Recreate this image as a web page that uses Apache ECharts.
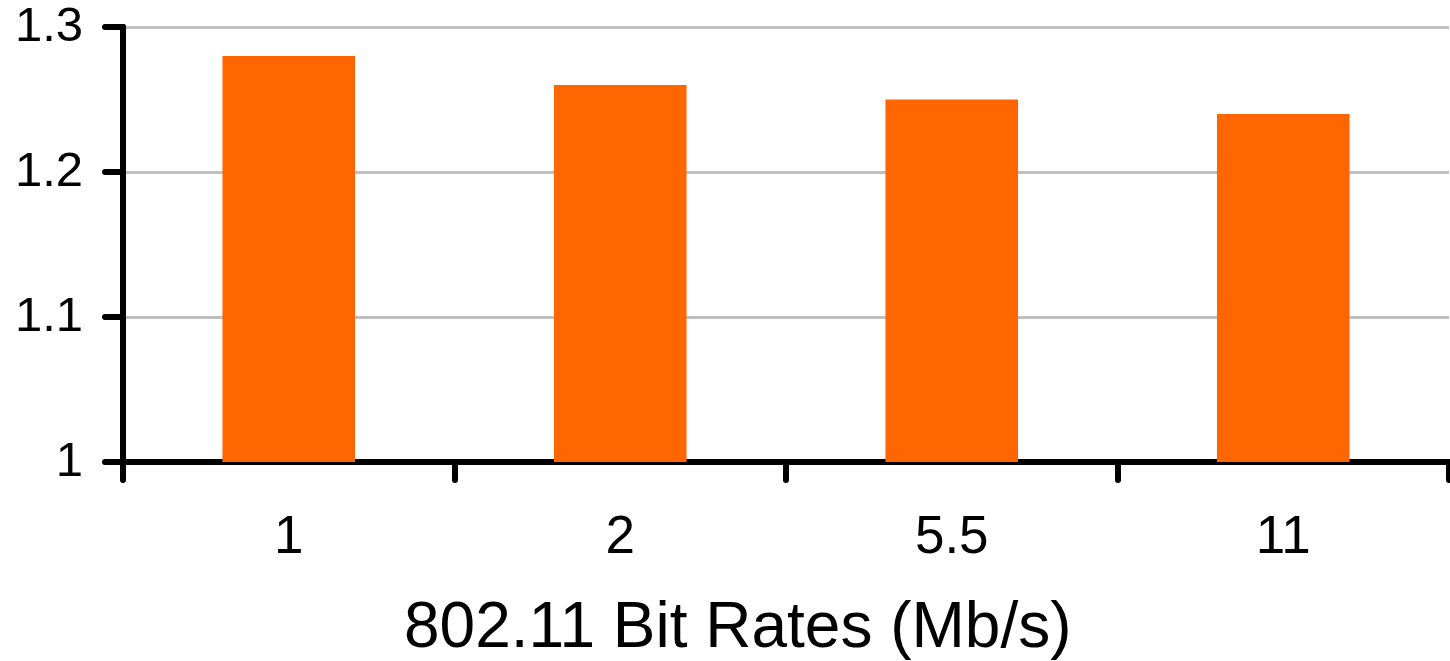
<!DOCTYPE html>
<html>
<head>
<meta charset="utf-8">
<style>
  html, body { margin: 0; padding: 0; background: #ffffff; }
  #chart { width: 1450px; height: 661px; }
</style>
<script src="https://cdn.jsdelivr.net/npm/echarts@6/dist/echarts.min.js"></script>
</head>
<body>
<div id="chart"></div>
<script>
const categories = ['1', '2', '5.5', '11'];
const values = [1.28, 1.26, 1.25, 1.24];
const yTicks = { min: 1, max: 1.3, interval: 0.1 };
const xTitle = '802.11 Bit Rates (Mb/s)';

const FONT = '"Liberation Sans", Arial, sans-serif';
const chart = echarts.init(document.getElementById('chart'), null, { renderer: 'canvas' });

chart.setOption({
  animation: false,
  backgroundColor: '#ffffff',
  grid: { left: 123, right: 1, top: 27, bottom: 199, containLabel: false },
  xAxis: {
    type: 'category',
    data: categories,
    boundaryGap: true,
    axisLine: { show: true, lineStyle: { color: '#000', width: 6, cap: 'round' } },
    axisTick: { show: true, length: 18, alignWithLabel: false, lineStyle: { color: '#000', width: 6, cap: 'round' } },
    axisLabel: { margin: 50, fontSize: 53, color: '#000', fontFamily: FONT },
    splitLine: { show: false }
  },
  yAxis: {
    type: 'value',
    min: yTicks.min,
    max: yTicks.max,
    interval: yTicks.interval,
    axisLine: { show: true, lineStyle: { color: '#000', width: 6, cap: 'round' } },
    axisTick: { show: true, length: 18, lineStyle: { color: '#000', width: 6, cap: 'round' } },
    axisLabel: {
      margin: 40, fontSize: 49, color: '#000', fontFamily: FONT,
      formatter: v => String(Number(v.toFixed(1)))
    },
    splitLine: { show: true, lineStyle: { color: '#c0c0c0', width: 3 } }
  },
  series: [{
    type: 'bar',
    data: values,
    barWidth: '40%',
    itemStyle: { color: '#FF6600' },
    z: 1
  }],
  graphic: [{
    type: 'text',
    left: 404,
    top: 597,
    style: {
      text: xTitle,
      fontSize: 64,
      fontFamily: FONT,
      fill: '#000'
    }
  }]
});
</script>
</body>
</html>
